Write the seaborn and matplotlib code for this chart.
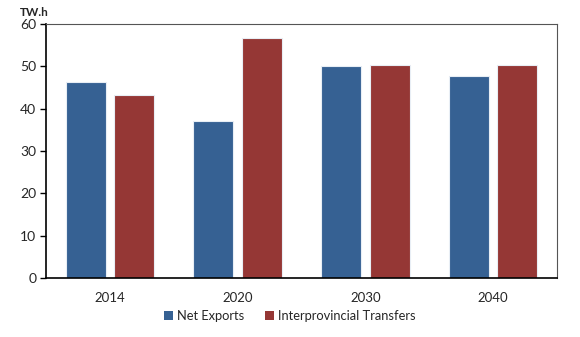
import matplotlib
matplotlib.use("Agg")
import matplotlib.pyplot as plt
import seaborn as sns
import pandas as pd
from matplotlib.patches import Patch

years = ["2014", "2020", "2030", "2040"]
net_exports = [46.4, 37.2, 50.1, 47.8]
interprovincial = [43.2, 56.6, 50.4, 50.3]
series_names = ["Net Exports", "Interprovincial Transfers"]
colors = ["#366193", "#953735"]
yticks = [0, 10, 20, 30, 40, 50, 60]

df = pd.DataFrame({
    "year": years * 2,
    "value": net_exports + interprovincial,
    "series": [series_names[0]] * 4 + [series_names[1]] * 4,
})

sns.set_style("white")
plt.rcParams["font.family"] = ["Lato", "DejaVu Sans"]

fig = plt.figure(figsize=(5.8, 3.37), dpi=100)
ax = fig.add_axes([46 / 580, 1 - 278 / 337, (557 - 46) / 580, (278 - 24) / 337])

sns.barplot(data=df, x="year", y="value", hue="series", palette=colors,
            saturation=1, width=0.76, gap=0.18, ax=ax, edgecolor="#e8eef5",
            linewidth=0.8, legend=False)

ax.set_ylim(0, 60)
ax.set_xlim(-0.5, 3.5)
ax.set_yticks(yticks)
ax.set_yticklabels([str(v) for v in yticks], fontsize=10)
ax.set_xlabel("")
ax.set_ylabel("")
ax.tick_params(axis="x", which="major", length=0, labelsize=9.5, pad=10)
ax.set_xticks([-0.5, 0.5, 1.5, 2.5, 3.5], minor=True)
ax.tick_params(axis="x", which="minor", length=4, width=1, direction="out", color="black")
ax.tick_params(axis="y", length=4, width=1, direction="out", color="black", pad=3, left=True)

for s in ["left", "bottom"]:
    ax.spines[s].set_color("black")
    ax.spines[s].set_linewidth(1.2)
for s in ["top", "right"]:
    ax.spines[s].set_color("#555555")
    ax.spines[s].set_linewidth(0.8)

fig.text(20 / 580, 1 - 12 / 337, "TW.h", fontsize=8.5, fontweight="bold", va="center", ha="left")

handles = [Patch(facecolor=c, edgecolor="none") for c in colors]
fig.legend(handles, series_names, loc="center", bbox_to_anchor=(0.5, 1 - 316 / 337),
           ncol=2, frameon=False, fontsize=9.3, handlelength=0.7, handleheight=0.7,
           handletextpad=0.3, columnspacing=1.6)

fig.savefig("out.png", dpi=100)
